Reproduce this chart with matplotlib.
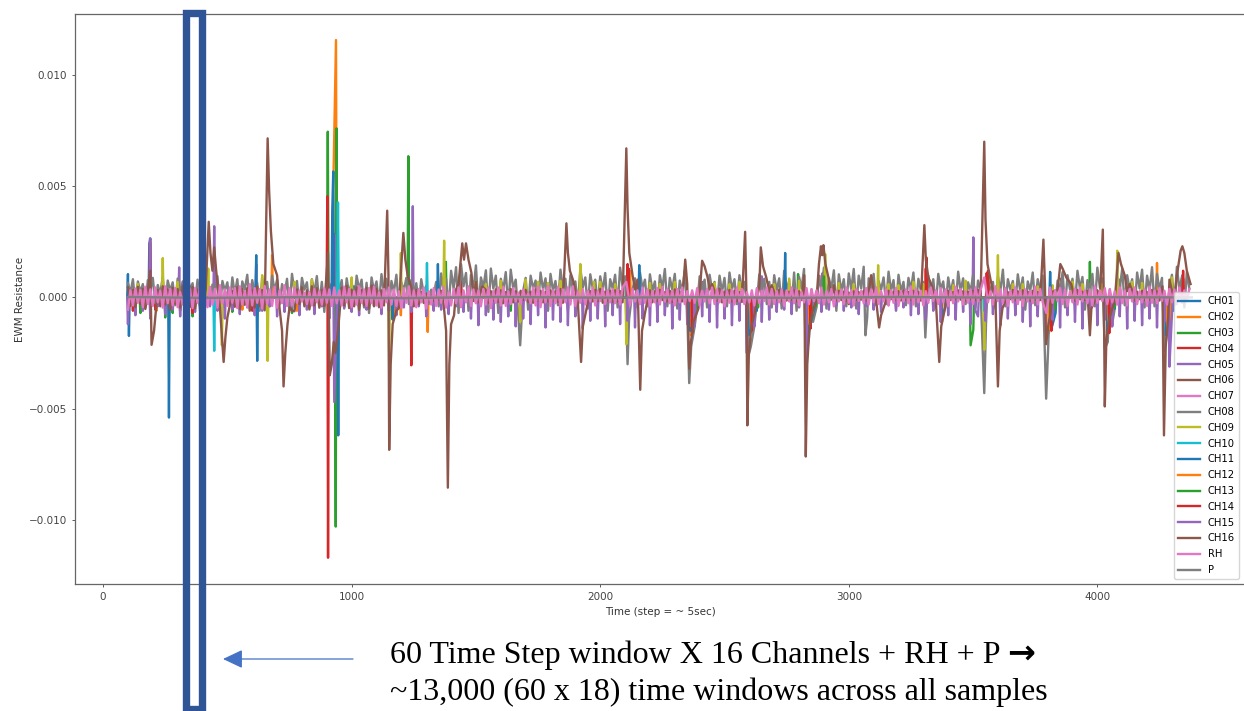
import numpy as np
import matplotlib
matplotlib.use("Agg")
import matplotlib.pyplot as plt
from matplotlib.patches import Rectangle, FancyArrowPatch

# All channel values are in units of 1e-5 resistance
UNIT = 1e-5

# --- sparse channels: step, value ---
CH01_T = [100, 104, 186, 190, 265, 700, 1010, 1600, 2250]
CH01_V = [105, -173, 240, 265, -540, 60, 50, -40, 45]
CH02_T = [130, 215, 345, 560, 680, 780, 926, 937, 1170, 1306, 2120, 2365, 2605, 2840, 3375, 3805, 4040, 4240, 4278]
CH02_V = [-65, -60, -70, -55, 190, -60, 484, 1157, -90, -155, 120, -170, -150, -140, -110, -160, -150, 155, -120]
CH03_T = [150, 250, 280, 360, 395, 520, 760, 904, 936, 939, 1228, 1379, 1640, 2796, 3490, 3501, 3970]
CH03_V = [-70, -90, -70, -85, -75, -65, -70, 745, -1030, 760, 635, 160, -60, 105, -215, -145, 160]
CH04_T = [120, 189, 210, 310, 600, 902, 905, 1240, 1440, 2110, 2414, 2650, 2892, 3310, 3555, 3855, 4090, 4345]
CH04_V = [-60, 250, -55, -60, -60, 455, -1170, -305, 90, 150, 70, 85, 100, 130, 110, 85, 70, 85]
CH05_T = [189, 306, 447, 616, 930, 1246, 2415, 2650, 2895, 3501, 3855, 4090, 4290, 4342]
CH05_V = [265, 135, 320, 150, 285, 410, 70, 95, 110, 270, 70, 80, -310, 100]
CH06_T = [300, 1000, 2000, 3000, 4000]
CH06_V = [30, -30, 30, -30, 30]
CH07_T = [500, 1500, 2500, 3500]
CH07_V = [25, -25, 25, -25]
CH09_T = [140, 240, 300, 423, 478, 662, 640, 770, 840, 1000, 1151, 1198, 1372, 1500, 1540, 1600, 1678,
          1700, 1750, 1790, 1840, 1920, 1975, 2000, 2060, 2105, 2200, 2240, 2300, 2460, 2520, 2560, 2700,
          2760, 2800, 2905, 2960, 3020, 3118, 3160, 3200, 3260, 3300, 3420, 3470, 3545, 3600, 3660, 3700,
          3760, 3820, 3900, 3940, 4020, 4080, 4140, 4180, 4300]
CH09_V = [60, 177, 70, 130, -215, -285, 100, 70, 80, 90, -320, 200, 255, 70, 60, 75, -110,
          80, 70, 65, 75, 150, 70, 70, 60, -210, 65, 60, 70, 65, 60, 70, 60,
          85, 75, 195, 65, 60, 145, 60, 55, 70, 60, 55, 75, -235, 190, 60, 60,
          50, 55, 70, 60, 60, 210, 70, 65, 90]
CH10_T = [447, 945, 1303, 2600, 2835, 3100, 3545]
CH10_V = [-240, 427, 155, -70, -90, -45, -60]
CH11_T = [616, 620, 922, 926, 946, 1165, 1347, 2157, 2362, 2372, 2385, 2600, 2612, 2630, 2744,
          2835, 2847, 2862, 3375, 3388, 3810, 3818, 3832, 4040, 4052, 4070, 4276, 4288, 4305]
CH11_V = [190, -285, 390, 566, -620, -100, 150, 145, -150, -100, -50, -170, -110, -60, 200,
          -180, -110, -50, -90, -45, 115, -130, -70, -160, -110, -50, -170, -120, -60]
CH12_T = [1198, 2368, 2382, 2606, 2620, 2842, 2856, 3806, 3820, 4045, 4060, 4282, 4296]
CH12_V = [-80, -130, -70, -140, -70, -120, -60, -140, -70, -130, -60, -140, -70]
CH13_T = [330, 2375, 2392, 2615, 2635, 2850, 2868, 2900, 3812, 3830, 4050, 4068]
CH13_V = [-95, -110, -50, -100, -45, -90, -40, 95, -100, -50, -95, -45]
CH14_T = [360, 2114, 2370, 2610, 2846, 3312, 3560, 3815, 4048, 4345]
CH14_V = [-70, 130, -160, -150, -140, 180, 120, -150, -160, 120]

# --- CH15: downward bars, one value every 30 steps ---
CH15_START = 100
CH15_STEP = 30
CH15_V = [-120, -80, -60, -95, -40, -75, -55, -85, -45, -65, -80, -40, -60, -95, -55, -75, -45, -80,
          -60, -40, -85, -65, -45, -80, -55, -75, -40, -95, -60, -45, -65, -80, -55, -40, -75, -60,
          -80, -45, -65, -40, -85, -60, -55, -75, -40, -65, -95, -125, -80, -100, -110, -85, -130, -95,
          -120, -80, -135, -100, -110, -125, -85, -140, -105, -95, -130, -80, -120, -105, -135, -95, -125,
          -110, -80, -140, -100, -120, -130, -85, -110, -135, -95, -125, -105, -80, -130, -110, -100, -65,
          -55, -75, -45, -60, -40, -65, -55, -35, -60, -45, -75, -40, -55, -65, -35, -60, -45, -80,
          -75, -95, -60, -110, -80, -100, -65, -120, -85, -105, -75, -125, -95, -80, -110, -130, -85, -120,
          -100, -135, -80, -110, -140, -95, -125, -100, -130, -85, -140, -105, -125, -95, -135, -110, -80]
CH15_EV_T = [930, 2590, 2830, 3510, 4290]
CH15_EV_V = [-470, -250, -300, -60, -310]

# --- CH08: one value every 10 steps ---
CH08_START = 100
CH08_STEP = 10
CH08_V = [65, 20, 82, -30, 72, 25, 60, -45, 78, 30, 88, -25, 56, 15, 94, -50, 76, 30, 68, -35,
          85, 20, 72, -40, 98, 35, 64, -30, 80, -60, 86, 25, 70, -25, 58, 20, 96, -55, 74, 30,
          68, -35, 90, 15, 82, -45, 72, 35, 102, -30, 78, 20, 66, -60, 88, 25, 70, -40, 98, 30,
          80, -30, 60, 15, 84, -50, 106, 25, 74, -35, 88, 35, 68, -45, 82, 20, 96, -30, 70, -65,
          90, 30, 64, -40, 108, 25, 78, -50, 86, 15, 70, -35, 98, 35, 80, -45, 66, -70, 90, 30,
          72, -30, 105, 20, 84, -55, 74, 25, 102, -40, 68, 30, 88, -30, 78, 20, 64, -35, 82, 15,
          52, -30, 35, 10, 70, -40, 108, 25, 84, -55, 120, 40, 136, -70, 150, 50, 110, -60, 102, 35,
          144, -50, 90, 45, 122, -65, 130, 40, 98, -70, 84, 35, 114, -45, 125, 40, 80, -75, 106, 30,
          88, -55, 98, 40, 76, -40, 112, 35, 86, -60, 106, 30, 74, -35, 125, 40, 84, -55, 100, 35,
          72, -40, 130, 45, 90, -50, 104, 40, 80, -35, 95, 30, 110, -60, 82, 40, 102, -45, 134, 50,
          95, -65, 118, 35, 86, -45, 112, 40, 80, -40, 104, 30, 72, -55, 100, 40, 128, -40, 88, 35,
          106, -50, 76, 25, 120, -60, 86, 40, 112, -40, 95, 30, 80, -45, 102, 35, 70, -35, 98, 25,
          88, -40, 112, 35, 82, -30, 100, 30, 70, -35, 86, 25, 76, -25, 104, 30, 84, -30, 70, -45,
          100, 30, 86, -50, 120, 35, 74, -40, 112, -60, 92, 40, 128, -55, 84, 35, 116, -45, 98, 30,
          134, -50, 86, 40, 122, -60, 104, 30, 82, -40, 108, 35, 128, -50, 98, 40, 138, -45, 86, 30,
          106, -35, 74, 35, 90, -30, 116, 30, 78, -50, 102, 25, 70, -35, 88, 35, 112, -40, 84, 30,
          70, -30, 98, 25, 82, -45, 106, 35, 72, -35, 90, 20, 78, -40, 116, 30, 86, -30, 68, 25,
          100, -45, 76, 35, 108, -35, 84, 25, 70, -50, 95, 30, 125, -40, 82, 35, 74, -30, 104, 25,
          90, -55, 72, 30, 112, -35, 82, 35, 98, -40, 130, 40, 88, -50, 76, 30, 114, -45, 100, 35,
          84, -35, 120, 40, 92, -55, 78, 30, 106, -40, 134, 45, 86, -45, 102, 35, 116, -50, 90, 40,
          128, -35, 100, 35, 82, -55, 112, 40, 125, -45, 98, 30, 136, -40, 106, 35, 88, -50, 120, 40,
          102, -35, 138, 35, 92, -45, 112, 40]
CH08_EV_T = [1678, 2110, 2116, 2358, 2366, 2380, 2597, 2606, 2620, 2827, 2840, 2856, 3067, 3074, 3308,
             3545, 3552, 3794, 3802, 3816, 4030, 4042, 4058, 4270, 4282]
CH08_EV_V = [-215, -300, -100, -385, -220, -130, -260, -220, -130, -280, -180, -110, -170, -90, -180,
             -430, -120, -455, -230, -130, -230, -200, -130, -240, -150]

# --- CH16: one value every 10 steps ---
CH16_START = 100
CH16_STEP = 10
CH16_V = [45, -38, 35, -44, 48, -30, 38, -52, 30, -36,
          42, -48, 33, -40, 50, -32, 36, -55, 44, -28,
          38, -46, 52, -34, 30, -42, 47, -50, 35, -38,
          44, -30, 36, -56, 49, -35, 32, -44, 40, -48,
          53, -36, 30, -42, 46, -52, 38, -33, 42, -60,
          35, -45, 50, -38, 33, -58, 44, -36, 48, -42,
          37, -50, 30, -35, 52, -44, 40, -62, 36, -30,
          46, -40, 32, -54, 50, -36, 42, -46, 34, -38,
          30, -44, 48, -32, 38, -52, 44, -36, 52, -48,
          35, -40, 46, -56, 33, -35, 42, -50, 54, -38,
          40, -44, 32, -36, 50, -52, 36, -30, 45, -48,
          38, -42, 30, -35, 46, -40, 34, -30, 25, -25,
          18, -20, 12, -15, 8, -12, 30, -30, 35, -25,
          32, -24, 36, -18, 28, -26, 34, -20, 38, -16,
          30, -22, 26, -18, 34, -24, 28, -14, 36, -20,
          32, -26, 24, -16, 38, -22, 28, -18, 30, -12,
          34, -20, 26, -24, 36, -16, 30, -22, 24, -18,
          32, -14, 28, -20, 38, -24, 26, -16, 34, -18,
          30, -22, 36, -12, 24, -20, 28, -18, 34, -16,
          38, -24, 26, -14, 30, -20, 32, -18, 28, -22,
          34, -16, 24, -12, 36, -20, 30, -18, 26, -14,
          32, -22, 28, -16, 34, -12, 24, -18, 30, -20,
          36, -14, 26, -18, 32, -16, 28, -22, 34, -12,
          30, -20, 24, -16, 36, -18, 28, -14, 32, -22,
          26, -12, 34, -18, 30, -16, 24, -20, 28, -14,
          36, -16, 30, -12, 26, -18, 32, -14, 28, -20,
          24, -10, 34, -16, 30, -14, 26, -12, 32, -18,
          28, -12, 24, -16, 30, -10, 26, -14, 34, -12,
          28, -16, 32, -10, 24, -14, 30, -12, 26, -16,
          22, -8, 28, -12, 24, -10, 30, -14, 26, -8,
          32, -12, 24, -10, 28, -14, 30, -8, 26, -12,
          28, -14, 32, -10, 24, -12, 30, -8, 26, -14,
          34, -10, 28, -12, 24, -8, 30, -14, 26, -10,
          30, -12, 24, -8, 32, -10, 28, -14, 26, -8,
          30, -12, 34, -10, 24, -14, 28, -8, 32, -12,
          26, -10, 30, -14, 24, -8, 34, -12, 28, -10,
          32, -8, 26, -14, 30, -10, 24, -12, 28, -8,
          34, -14, 26, -10, 32, -12, 24, -8, 30, -10,
          28, -14, 34, -8, 26, -12, 30, -10, 24, -14,
          32, -8, 28, -12, 26, -10, 34, -14, 24, -8,
          30, -12, 28, -10, 32, -14, 26, -8, 30, -12,
          24, -10, 34, -8, 28, -14, 26, -12, 32, -10,
          30, -14, 24, -8, 28, -12, 34, -10]
CH16_EV_T = [190, 195, 205, 425, 432, 440, 447, 455, 485, 492, 500,
             662, 668, 675, 685, 700, 720, 726, 733, 742, 760,
             905, 912, 920, 928, 935, 945,
             1143, 1148, 1151, 1157, 1165, 1180, 1200, 1208, 1216, 1225,
             1380, 1387, 1393, 1400, 1412, 1430, 1445, 1452, 1460, 1470, 1482, 1500, 1525,
             1864, 1870, 1878, 1890, 1923, 1930, 1945,
             2105, 2110, 2117, 2130, 2150, 2161, 2168, 2180,
             2342, 2350, 2358, 2365, 2375, 2395, 2410, 2420, 2432, 2450, 2480,
             2583, 2588, 2592, 2598, 2608, 2622, 2640, 2646, 2655, 2668, 2690, 2720,
             2821, 2827, 2833, 2842, 2855, 2880, 2888, 2893, 2898, 2906, 2918, 2940,
             3090, 3097, 3122, 3130, 3145,
             3304, 3310, 3320, 3335, 3364, 3372, 3385,
             3545, 3550, 3558, 3572, 3600, 3607, 3618,
             3783, 3789, 3794, 3802, 3812, 3830, 3851, 3860, 3875, 3895,
             3970, 3976, 4022, 4027, 4030, 4036, 4045, 4060, 4085, 4095, 4110, 4130,
             4262, 4268, 4275, 4285, 4290, 4320, 4335, 4342, 4350, 4360, 4375]
CH16_EV_V = [120, -213, -150, 340, 200, 120, 225, 120, -290, -180, -90,
             715, 480, 300, 150, 100, -150, -400, -250, -120, -60,
             200, -350, -300, -200, -250, -150,
             390, 100, -685, -300, -120, -60, 150, 290, 170, 100,
             -150, -855, -300, -120, -80, 60, 243, 170, 243, 170, 110, 70, 50,
             333, 200, 120, 80, -290, -130, -50,
             670, 400, 200, 100, 80, -415, -150, -70,
             170, 60, -320, -200, -110, -50, 165, 140, 90, 60, 40,
             295, 20, -575, -250, -130, -70, 50, 225, 140, 90, 55, 35,
             100, -715, -300, -130, -60, 150, 230, 190, 235, 150, 90, 55,
             100, 50, -135, -80, -30,
             325, 170, 90, 50, -290, -130, -60,
             700, 350, 150, 70, -400, -150, -50,
             260, 60, -210, -130, -70, 30, 150, 130, 90, 60,
             -170, -50, 305, -100, -490, -200, -110, -50, 200, 150, 100, 60,
             50, -620, -220, -90, 80, 100, 210, 230, 200, 120, 60]

# --- RH: one value every 10 steps ---
RH_START = 100
RH_STEP = 10
RH_V = [-55, 32, -36, 40, -24, 34, -44, 48, -30, 36, -38, 45, -22, 30, -46, 50, -26, 38, -36, 42,
        -44, 24, -32, 45, -38, 36, -48, 42, -24, 52, -36, 30, -44, 48, -32, 38, -46, 55, -26, 36,
        -38, 45, -24, 42, -48, 50, -32, 28, -44, 60, -36, 42, -24, 38, -50, 52, -30, 36, -38, 48,
        -46, 32, -26, 55, -38, 42, -36, 45, -24, 30, -18, 22, -30, 24, -36, 38, -22, 28, -32, 42,
        -24, 36, -38, 45, -26, 32, -36, 48, -22, 38, -44, 28, -32, 50, -24, 36, -38, 42, -26, 48,
        -36, 24, -46, 38, -22, 45, -32, 36, -38, 28, -48, 42, -24, 50, -36, 32, -44, 38, -22, 45,
        -50, 28, -32, 42, -38, 36, -24, 48, -46, 24, -36, 38, -26, 45, -44, 32, -22, 50, -38, 36,
        -26, 32, -40, 38, -32, 45, -48, 30, -24, 45, -36, 48, -38, 28, -30, 42, -18, 22, -30, 36,
        -12, 18, -26, 45, -36, 50, -44, 38, -22, 52, -38, 32, -26, 48, -40, 36, -22, 45, -32, 50,
        -38, 28, -24, 38, -32, 30, -18, 45, -36, 28, -16, 42, -30, 32, -22, 38, -26, 36, -32, 45,
        -22, 28, -36, 38, -18, 32, -30, 45, -24, 36, -38, 28, -22, 42, -32, 48, -18, 36, -26, 30,
        -36, 38, -22, 45, -30, 28, -16, 32, -24, 42, -36, 30, -18, 38, -26, 45, -30, 36, -22, 32,
        -40, 28, -24, 36, -32, 45, -18, 38, -30, 24, -22, 32, -36, 42, -26, 30, -16, 45, -32, 38,
        -30, 28, -22, 36, -38, 32, -18, 45, -26, 36, -36, 24, -22, 42, -30, 38, -16, 32, -26, 45,
        -32, 30, -22, 38, -40, 28, -18, 36, -30, 45, -24, 32, -36, 38, -16, 30, -26, 42, -32, 36,
        -22, 45, -30, 28, -18, 38, -36, 32, -24, 42, -38, 30, -18, 36, -26, 50, -32, 38, -22, 30,
        -36, 28, -24, 45, -16, 32, -30, 42, -22, 36, -38, 30, -26, 48, -18, 38, -32, 28, -24, 36,
        -30, 45, -18, 32, -36, 38, -22, 28, -32, 50, -16, 36, -26, 42, -38, 30, -22, 45, -30, 32,
        -38, 36, -18, 30, -26, 48, -32, 38, -22, 28, -36, 45, -24, 32, -16, 42, -30, 36, -38, 28,
        -22, 38, -32, 45, -18, 30, -26, 36, -36, 50, -24, 32, -16, 42, -30, 38, -22, 28, -32, 45,
        -26, 32, -36, 38, -18, 45, -30, 28, -22, 36, -38, 48, -24, 32, -26, 42, -16, 30, -32, 38,
        -22, 36, -30, 45, -24, 32, -18, 38]
RH_EV_T = [2105, 3545, 3795]
RH_EV_V = [70, 90, -70]

# --- P: nearly flat line ---
P_T = [100, 400, 800, 1200, 1600, 2000, 2400, 2800, 3200, 3600, 4000, 4380]
P_V = [2, -2, 1, -3, 2, -1, 1, -2, 2, -1, 1, 0]

XTICKS = [0, 1000, 2000, 3000, 4000]
YTICKS = [-0.010, -0.005, 0.000, 0.005, 0.010]
NAMES = ["CH01", "CH02", "CH03", "CH04", "CH05", "CH06", "CH07", "CH08", "CH09",
         "CH10", "CH11", "CH12", "CH13", "CH14", "CH15", "CH16", "RH", "P"]


# Add a return to zero between readings that are far apart, so each one is a narrow spike
def sparse(t, v):
    order = np.argsort(t)
    t = np.array(t, dtype=float)[order]
    v = np.array(v, dtype=float)[order]
    out_t, out_v = [t[0] - 3], [0.0]
    for i in range(len(t)):
        out_t.append(t[i])
        out_v.append(v[i])
        if i == len(t) - 1 or t[i + 1] - t[i] > 16:
            out_t.append(t[i] + 3)
            out_v.append(0.0)
            if i < len(t) - 1:
                out_t.append(t[i + 1] - 3)
                out_v.append(0.0)
    return np.array(out_t), np.array(out_v)


# Regular readings, with the larger events put in their place
def dense(start, step, values, ev_t, ev_v):
    t = start + step * np.arange(len(values))
    v = np.array(values, dtype=float)
    ev_t = np.array(ev_t, dtype=float)
    keep = np.array([np.abs(ev_t - x).min() >= 6 for x in t])
    all_t = np.concatenate([t[keep], ev_t])
    all_v = np.concatenate([v[keep], np.array(ev_v, dtype=float)])
    order = np.argsort(all_t)
    return all_t[order], all_v[order]


# CH15 bars are sparse: merge the regular bars with the large ones
ch15_t = list(CH15_START + CH15_STEP * np.arange(len(CH15_V))) + CH15_EV_T
ch15_v = CH15_V + CH15_EV_V

series = [
    sparse(CH01_T, CH01_V), sparse(CH02_T, CH02_V), sparse(CH03_T, CH03_V),
    sparse(CH04_T, CH04_V), sparse(CH05_T, CH05_V), sparse(CH06_T, CH06_V),
    sparse(CH07_T, CH07_V), dense(CH08_START, CH08_STEP, CH08_V, CH08_EV_T, CH08_EV_V),
    sparse(CH09_T, CH09_V), sparse(CH10_T, CH10_V), sparse(CH11_T, CH11_V),
    sparse(CH12_T, CH12_V), sparse(CH13_T, CH13_V), sparse(CH14_T, CH14_V),
    sparse(ch15_t, ch15_v), dense(CH16_START, CH16_STEP, CH16_V, CH16_EV_T, CH16_EV_V),
    dense(RH_START, RH_STEP, RH_V, RH_EV_T, RH_EV_V), (np.array(P_T), np.array(P_V)),
]

W, H = 1244, 711
fig = plt.figure(figsize=(W / 100, H / 100), dpi=100)
ax = fig.add_axes([75 / W, 1 - 584 / H, (1245 - 75) / W, 570 / H])

for (t, v), name in zip(series, NAMES):
    ax.plot(t, v * UNIT, lw=1.7, label=name)

ax.set_xlim(-113, 4594)
ax.set_ylim(-0.01288, 0.01274)
ax.set_xticks(XTICKS)
ax.set_yticks(YTICKS)
ax.tick_params(labelsize=7.5, length=2.5, width=0.6, colors="#444444", pad=3)
ax.set_xlabel("Time (step = ~ 5sec)", fontsize=7.5, color="#333333", labelpad=4)
ax.set_ylabel("EWM Resistance", fontsize=7.5, color="#333333", labelpad=3)
for s in ax.spines.values():
    s.set_color("#666666")
    s.set_linewidth(0.9)

ax.legend(loc="lower right", bbox_to_anchor=(1239 / W, 1 - 579 / H), bbox_transform=fig.transFigure,
          fontsize=7.2, labelspacing=0.58, handlelength=2.2, borderaxespad=0, borderpad=0.4)

# Slide annotations on top of the chart
fig.add_artist(Rectangle((185.7 / W, 1 - 708.5 / H), 16.6 / W, 695.5 / H, transform=fig.transFigure,
                         fill=False, edgecolor="#2F5597", linewidth=5.3))
fig.add_artist(FancyArrowPatch((353 / W, 1 - 659 / H), (223 / W, 1 - 659 / H), transform=fig.transFigure,
                               arrowstyle="-|>,head_length=5.5,head_width=2.6", mutation_scale=2.2,
                               color="#4472C4", linewidth=0.9, shrinkA=0, shrinkB=0))
fig.text(390 / W, 1 - 655 / H, "60 Time Step window X 16 Channels + RH + P", family="Liberation Serif",
         fontsize=23, color="black", va="center", ha="left")
fig.text(1007 / W, 1 - 653 / H, "\u2192", family="DejaVu Sans", weight="bold", fontsize=24,
         color="black", va="center", ha="left")
fig.text(390 / W, 1 - 692 / H, "~13,000 (60 x 18) time windows across all samples",
         family="Liberation Serif", fontsize=23, color="black", va="center", ha="left")

fig.savefig("out.png", dpi=100)
